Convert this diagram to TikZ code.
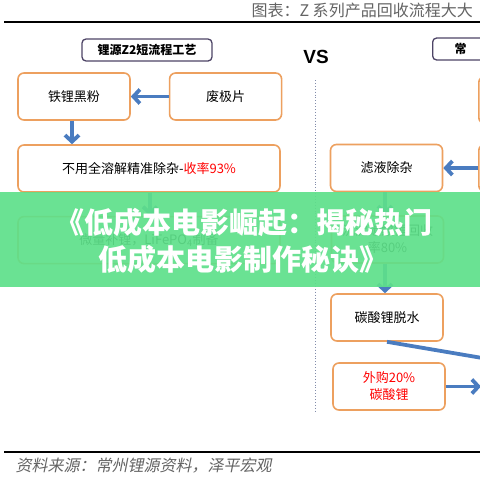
\documentclass[tikz,border=0pt]{standalone}
\usepackage{fontspec}
\newfontfamily\cjk{Noto Sans CJK SC}
\newfontfamily\cjkit[FakeSlant=0.2]{Noto Sans CJK SC}
\newfontfamily\vsfont{Liberation Sans}
\usetikzlibrary{arrows.meta, positioning}

\definecolor{boxorange}{RGB}{237,160,95}
\definecolor{hdrline}{RGB}{77,68,102}
\definecolor{flowblue}{RGB}{74,124,192}
\definecolor{bandgreen}{RGB}{94,224,138}
\definecolor{titlegray}{RGB}{100,100,100}
\definecolor{dotline}{RGB}{130,140,170}

\begin{document}
\begin{tikzpicture}[x=1pt, y=-1pt,
  stepbox/.style={rectangle, rounded corners=6pt, draw=boxorange, line width=1.6pt, fill=white,
    minimum width=112pt, minimum height=47pt, align=center, font=\cjk\fontsize{13}{17}\selectfont},
  widebox/.style={stepbox, minimum width=262pt},
  hdrbox/.style={rectangle, rounded corners=4pt, draw=hdrline, line width=1.3pt, fill=white,
    minimum height=22pt, font=\cjk\bfseries\fontsize{12}{14}\selectfont},
  flow/.style={draw=flowblue, line width=3.8pt, -{Straight Barb[length=6.5pt,width=14pt]}},
  rule/.style={line width=2.4pt, black}]
  \useasboundingbox (0,0) rectangle (480,480);
  \fill[white] (0,0) rectangle (480,480);

  % Header
  \node [anchor=west, text=titlegray, font=\cjk\fontsize{16}{18}\selectfont] (title) at (248,10) {图表：Z 系列产品回收流程大大};
  \coordinate (ruleL) at (4,22);
  \coordinate (ruleR) at (482,22);
  \draw [rule] (ruleL) -- (ruleR);

  % Nodes
  \node [hdrbox, minimum width=130pt] (hdrL) at (147,50) {锂源Z2短流程工艺};
  \node [font=\vsfont\bfseries\fontsize{19}{20}\selectfont] (vs) at (316,57) {VS};
  \node [hdrbox, anchor=west, text width=70pt, align=left, inner xsep=22pt] (hdrR) at (432,49) {常};

  \node [stepbox] (heifen) at (74,96.5) {铁锂黑粉};
  \node [stepbox, right=38pt of heifen] (jipian) {废极片};
  \node [widebox] (zachu) at (149,168.5) {不用全溶解精准除杂-{\color{red}收率93\%}};
  \node [widebox, below=23pt of zachu] (buli) {微量补锂，LiFePO\textsubscript{4}制备};

  \node [stepbox, anchor=west] (rtop) at (478,100) {};
  \node [stepbox, anchor=west] (rmid) at (478,168) {};
  \node [stepbox] (lvye) at (386.5,168) {滤液除杂};
  \node [stepbox] (chen) at (387.5,239.5) {沉淀碳酸锂回收\\率80\%};
  \node [stepbox] (tuoshui) at (387,317.5) {碳酸锂脱水};
  \node [stepbox, text=red] (waigou) at (389,386.5) {外购20\%\\碳酸锂};
  \coordinate (offA) at (500,361);
  \coordinate (offB) at (481,386.5);

  \coordinate (vtop) at (315,80);
  \coordinate (vbot) at (315,412);
  \draw [dotline, line width=0.9pt, dotted] (vtop) -- (vbot);

  % Edges
  \draw [flow] (jipian) -- (heifen);
  \draw [flow] (heifen.south -| 72,0) -- (zachu.north -| 72,0);
  \draw [flow] (zachu.south -| 150,0) -- (buli.north -| 150,0);
  \draw [flow] (rmid) -- (lvye);
  \draw [flow] (lvye.south -| 385,0) -- (chen.north -| 385,0);
  \draw [flow] (chen.south -| 385,0) -- (tuoshui.north -| 385,0);
  \draw [flowblue, line width=3.8pt] (tuoshui.south -| 387,0) -- (offA);
  \draw [flow] (waigou) -- (offB);

  % Footer
  \coordinate (footL) at (4,452);
  \coordinate (footR) at (482,452);
  \draw [rule] (footL) -- (footR);
  \node [anchor=west, text=titlegray, font=\cjkit\fontsize{16}{18}\selectfont] (source) at (12,466) {资料来源：常州锂源资料，泽平宏观};

  % Overlay band
  \fill [bandgreen, opacity=0.92] (0,192) rectangle (480,287);
  \node [text=white, font=\cjk\bfseries\fontsize{29}{37}\selectfont, align=center] (banner) at (244,241) {《低成本电影崛起：揭秘热门\\低成本电影制作秘诀》};
\end{tikzpicture}
\end{document}
